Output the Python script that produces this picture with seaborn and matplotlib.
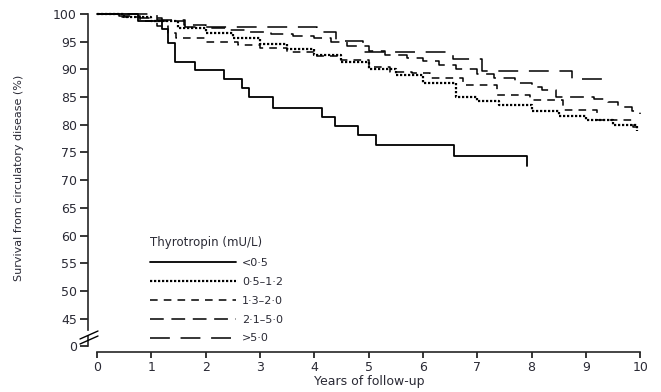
import numpy as np
import pandas as pd
import matplotlib
matplotlib.use("Agg")
import matplotlib.pyplot as plt
import seaborn as sns
from matplotlib.lines import Line2D

# Kaplan-Meier style survival curves
years_lt05 = [0, 0.75, 1.2, 1.31, 1.44, 1.8, 2.33, 2.67, 2.8, 3.24, 4.14, 4.38, 4.81, 5.14, 6.57, 7.92]
surv_lt05 = [100, 98.8, 97.3, 94.8, 91.3, 89.9, 88.2, 86.6, 85.0, 83.0, 81.4, 79.8, 78.2, 76.4, 74.4, 72.6]

years_05_12 = [0, 0.5, 1.0, 1.5, 2.0, 2.5, 3.0, 3.5, 4.0, 4.5, 5.0, 5.5, 6.0, 6.6, 7.0, 7.4,
               8.0, 8.5, 9.0, 9.5, 9.94]
surv_05_12 = [100, 99.4, 98.7, 97.5, 96.6, 95.6, 94.6, 93.6, 92.6, 91.3, 90.0, 88.9, 87.5, 85.1,
              84.3, 83.6, 82.5, 81.5, 80.8, 80.0, 78.9]

years_13_20 = [0, 0.4, 0.8, 1.1, 1.3, 1.45, 2.0, 2.6, 3.0, 3.5, 4.0, 4.5, 5.0, 5.4, 5.8, 6.13,
               6.74, 7.36, 7.97, 8.58, 9.2, 9.87, 10.0]
surv_13_20 = [100, 99.5, 98.8, 97.8, 96.5, 95.6, 95.0, 94.4, 93.8, 93.2, 92.5, 91.7, 90.5, 89.6,
              89.3, 88.4, 87.2, 85.4, 84.5, 82.7, 80.9, 79.6, 79.3]

years_21_50 = [0, 0.4, 0.8, 1.2, 1.6, 2.0, 2.4, 2.8, 3.2, 3.6, 4.0, 4.3, 4.6, 5.0, 5.3, 5.7, 6.0,
               6.3, 6.6, 7.0, 7.3, 7.7, 8.0, 8.2, 8.45, 9.15, 9.4, 9.6, 9.85, 10.0]
surv_21_50 = [100, 99.7, 99.3, 98.7, 98.0, 97.5, 97.1, 96.8, 96.4, 96.0, 95.7, 95.0, 94.2, 93.4,
              92.6, 92.1, 91.6, 90.8, 90.0, 89.1, 88.4, 87.5, 86.8, 86.2, 85.0, 84.6, 84.1, 83.3,
              82.4, 82.0]

years_gt50 = [0, 1.1, 1.62, 4.05, 4.4, 4.9, 6.56, 7.09, 8.75, 9.32]
surv_gt50 = [100, 99.0, 97.7, 96.8, 95.2, 93.2, 91.8, 89.7, 88.2, 86.8]

group_labels = ["<0·5", "0·5–1·2", "1·3–2·0", "2·1–5·0", ">5·0"]
x_ticks = list(range(0, 11))
y_ticks = [45, 50, 55, 60, 65, 70, 75, 80, 85, 90, 95, 100]

sns.set_style("ticks")
plt.rcParams["font.family"] = ["DejaVu Sans"]
txt = "#2a2a35"

W, H = 661, 392
fig = plt.figure(figsize=(W / 100, H / 100), dpi=100)


def fx(px):
    return px / W


def fy(py):
    return 1 - py / H


# small panel holding the 0 tick below the break, then main panel (45-100) on top
ax0 = fig.add_axes([fx(88), fy(352), fx(650 - 88), (352 - 336) / H])
ax = fig.add_axes([fx(88), fy(330), fx(650 - 88), (330 - 12) / H], sharex=ax0)
ax0.set_facecolor("none")
ax.set_facecolor("none")

curves = [
    (years_lt05, surv_lt05, "-", 1.3),
    (years_05_12, surv_05_12, (0, (1.0, 0.8)), 1.6),
    (years_13_20, surv_13_20, (0, (5, 4)), 1.1),
    (years_21_50, surv_21_50, (0, (9, 5)), 1.1),
    (years_gt50, surv_gt50, (0, (13, 7)), 1.1),
]
for (t, s, ls, lw), lab in zip(curves, group_labels):
    df = pd.DataFrame({"years": t, "survival": s})
    sns.lineplot(data=df, x="years", y="survival", ax=ax, color="black", lw=lw,
                 linestyle=ls, drawstyle="steps-post", estimator=None, label=lab)

ax.set_xlim(-0.166, 10.18)
ax.set_ylim(42.96, 100.36)
ax.set_yticks(y_ticks)
ax.set_yticklabels([str(v) for v in y_ticks])
for sp in ["top", "right", "bottom"]:
    ax.spines[sp].set_visible(False)
ax.spines["left"].set_bounds(42.96, 100)
ax.spines["left"].set_linewidth(1.2)
ax.tick_params(axis="x", bottom=False, labelbottom=False)
ax.tick_params(axis="y", length=6, width=1.1, labelsize=9, colors="black", labelcolor=txt, pad=2)
ax.set_xlabel("")
ax.set_ylabel("Survival from circulatory disease (%)", fontsize=8, color=txt)
ax.yaxis.set_label_coords((24 - 88) / (650 - 88), 0.478)

ax0.set_ylim(-6, 10)
ax0.set_yticks([0])
ax0.set_yticklabels(["0"])
ax0.set_xticks(x_ticks)
ax0.set_xticklabels([str(v) for v in x_ticks])
for sp in ["top", "right"]:
    ax0.spines[sp].set_visible(False)
ax0.spines["left"].set_bounds(0, 10)
ax0.spines["bottom"].set_bounds(0, 10)
ax0.spines["left"].set_linewidth(1.2)
ax0.spines["bottom"].set_linewidth(1.2)
ax0.tick_params(axis="both", length=4.5, width=1.1, labelsize=9, colors="black",
                labelcolor=txt, pad=2)
ax0.tick_params(axis="y", length=6)
ax0.set_xlabel("Years of follow-up", fontsize=9, color=txt, labelpad=1)
ax0.set_ylabel("")

# break marks on the y axis
for dy in (0, 5):
    fig.add_artist(Line2D([fx(80), fx(98)], [fy(339 + dy), fy(331 + dy)],
                          color="black", lw=1.0))

handles, labels = ax.get_legend_handles_labels()
leg = ax.legend(handles, labels, title="Thyrotropin (mU/L)", loc="upper left",
                bbox_to_anchor=(fx(150), fy(236)), bbox_transform=fig.transFigure,
                frameon=False, fontsize=8, title_fontsize=8.5, handlelength=7.7,
                handletextpad=0.6, labelspacing=0.8, borderpad=0, borderaxespad=0,
                alignment="left")
for t in leg.get_texts():
    t.set_color(txt)
leg.get_title().set_color(txt)

fig.savefig("out.png", dpi=100)
